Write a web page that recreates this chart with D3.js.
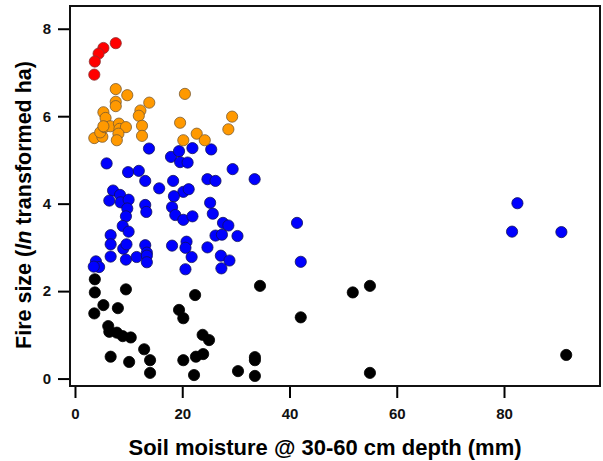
<!DOCTYPE html>
<meta charset="utf-8">
<style>
    body {
        margin: 0;
        background: #fff;
    }
    text {
        font-family: "Liberation Sans", Arial, sans-serif;
        font-weight: bold;
    }
    .axis path {
        display: none;
    }
    .axis line {
        stroke: #000;
        stroke-width: 2;
    }
    .axis text {
        font-size: 15px;
        fill: #111;
    }
</style>
<svg width="603" height="461"></svg>
<script src="https://d3js.org/d3.v7.min.js"></script>
<script>

    // fire size (ln ha) vs soil moisture (mm), split in four groups
    var redX = [7.6, 5.3, 4.4, 3.7, 3.6],
        redY = [7.67, 7.56, 7.43, 7.25, 6.95];

    var orangeX = [7.6, 9.75, 7.6, 7.6, 13.85, 12.2, 11.9, 5.3, 5.7, 20.5, 29.3, 28.6, 19.6, 12.5,
                   12.5, 22.7, 24.2, 20.2, 3.6, 5.1, 4.7, 5.5, 6.6, 8.2, 8.3, 9.5, 8.1, 7.8, 5.3],
        orangeY = [6.62, 6.48, 6.33, 6.23, 6.31, 6.13, 6.01, 6.09, 5.96, 6.51, 5.99, 5.70, 5.85, 5.78,
                   5.55, 5.60, 5.45, 5.45, 5.50, 5.53, 5.63, 5.75, 5.77, 5.83, 5.71, 5.75, 5.60, 5.45, 5.77];

    var blueX = [13.8, 17.9, 19.4, 21.9, 25.4, 19.6, 21.0, 5.9, 9.9, 11.9, 13.1, 15.7, 18.3, 20.2,
                 21.2, 24.7, 26.2, 29.4, 33.5, 7.1, 8.4, 6.4, 8.5, 10.0, 9.75, 9.5, 8.9, 10.0,
                 13.1, 13.3, 18.45, 18.1, 18.7, 20.2, 21.9, 25.2, 25.7, 27.6, 28.6, 41.4, 26.2, 27.4,
                 30.3, 6.65, 6.65, 9.0, 9.6, 13.1, 13.4, 18.1, 20.8, 20.6, 24.7, 6.65, 9.5, 11.5,
                 13.4, 13.4, 21.75, 27.2, 28.8, 27.3, 20.6, 42.1, 3.9, 4.5, 3.5, 82.5, 81.5, 90.7],
        blueY = [5.26, 5.07, 5.20, 5.27, 5.24, 4.95, 4.94, 4.92, 4.72, 4.75, 4.52, 4.35, 4.52, 4.27,
                 4.33, 4.56, 4.52, 4.79, 4.56, 4.30, 4.20, 4.07, 4.03, 4.09, 3.89, 3.71, 3.49, 3.36,
                 3.97, 3.81, 4.17, 3.92, 3.74, 3.63, 3.71, 4.02, 3.77, 3.56, 3.50, 3.56, 3.27, 3.29,
                 3.26, 3.28, 3.07, 2.97, 3.07, 3.05, 2.88, 3.04, 3.13, 2.99, 3.00, 2.79, 2.72, 2.78,
                 2.81, 2.66, 2.78, 2.81, 2.70, 2.52, 2.50, 2.67, 2.68, 2.55, 2.56, 4.01, 3.36, 3.35];

    var blackX = [3.7, 3.7, 9.5, 5.3, 8.0, 3.6, 22.4, 34.5, 19.4, 20.2, 42.1, 51.8, 55.0, 6.2,
                  6.4, 7.8, 8.9, 10.4, 23.8, 25.0, 12.9, 6.65, 10.1, 14.0, 14.0, 20.2, 22.55, 23.9,
                  22.2, 30.4, 33.55, 33.55, 33.55, 55.0, 91.6],
        blackY = [2.27, 1.97, 2.04, 1.68, 1.61, 1.49, 1.91, 2.12, 1.57, 1.38, 1.40, 1.97, 2.12, 1.20,
                  1.07, 1.05, 0.97, 0.94, 1.00, 0.88, 0.67, 0.50, 0.38, 0.42, 0.13, 0.42, 0.50, 0.56,
                  0.08, 0.17, 0.49, 0.42, 0.06, 0.13, 0.54];

    var xTicks = [0, 20, 40, 60, 80],
        yTicks = [0, 2, 4, 6, 8];

    var groups = [
        {x: blackX, y: blackY, fill: "#000000", stroke: "#000000"},
        {x: blueX, y: blueY, fill: "#0000ff", stroke: "#10105a"},
        {x: orangeX, y: orangeY, fill: "#ff9900", stroke: "#7a5a30"},
        {x: redX, y: redY, fill: "#ff0000", stroke: "#8a3030"}
    ];

    var svg = d3.select("svg"),
        box = {left: 70, right: 600, top: 6, bottom: 386};

    var x = d3.scaleLinear().domain([-0.93, 97.9]).range([box.left, box.right]),
        y = d3.scaleLinear().domain([-0.17, 8.52]).range([box.bottom, box.top]);

    svg.append("g")
        .attr("class", "axis")
        .attr("transform", "translate(0," + box.bottom + ")")
        .call(d3.axisBottom(x).tickValues(xTicks).tickSize(12).tickPadding(10));

    svg.append("g")
        .attr("class", "axis")
        .attr("transform", "translate(" + box.left + ",0)")
        .call(d3.axisLeft(y).tickValues(yTicks).tickSize(12).tickPadding(7));

    groups.forEach(function(gr) {
        svg.append("g").selectAll("circle")
            .data(gr.x.map(function(v, i) { return [v, gr.y[i]]; }))
            .enter().append("circle")
            .attr("cx", function(d) { return x(d[0]); })
            .attr("cy", function(d) { return y(d[1]); })
            .attr("r", 5.6)
            .attr("fill", gr.fill)
            .attr("stroke", gr.stroke)
            .attr("stroke-width", 0.8);
    });

    svg.append("rect")
        .attr("x", box.left)
        .attr("y", box.top)
        .attr("width", box.right - box.left)
        .attr("height", box.bottom - box.top)
        .attr("fill", "none")
        .attr("stroke", "#111")
        .attr("stroke-width", 2);

    svg.append("text")
        .attr("x", 325)
        .attr("y", 455)
        .attr("text-anchor", "middle")
        .style("font-size", "22px")
        .text("Soil moisture @ 30-60 cm depth (mm)");

    var yt = svg.append("text")
        .attr("transform", "translate(31,205) rotate(-90)")
        .attr("text-anchor", "middle")
        .style("font-size", "21.5px");
    yt.append("tspan").text("Fire size (");
    yt.append("tspan").style("font-style", "italic").text("ln");
    yt.append("tspan").text(" transformed ha)");

</script>
